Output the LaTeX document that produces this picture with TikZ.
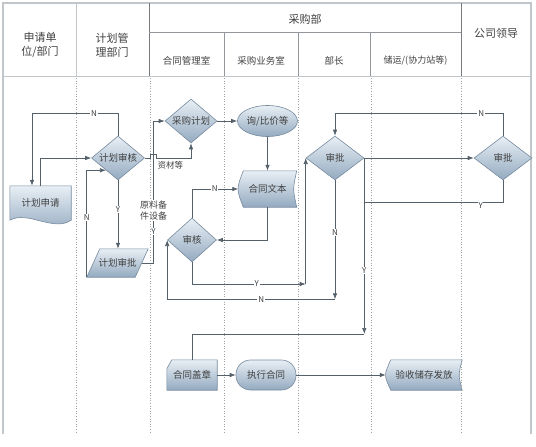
\documentclass[tikz,border=0pt]{standalone}
\usepackage{fontspec}
\setmainfont{Noto Sans CJK SC}
\usetikzlibrary{arrows.meta, shapes.geometric, backgrounds, calc}
\definecolor{linegray}{RGB}{84,96,106}
\definecolor{framegray}{RGB}{192,198,202}
\definecolor{rulegray}{RGB}{120,124,128}
\definecolor{shapetop}{RGB}{232,239,245}
\definecolor{shapebot}{RGB}{148,170,192}
\definecolor{shapeline}{RGB}{118,138,158}
\definecolor{txtgray}{RGB}{64,64,64}

\begin{document}
\begin{tikzpicture}[x=1pt, y=-1pt,
  font=\fontsize{9.5}{11}\selectfont,
  flowfill/.style={top color=shapetop, bottom color=shapebot, draw=shapeline, line width=0.6pt},
  decide/.style={diamond, aspect=1.25, flowfill, inner sep=0pt, text=txtgray,
    minimum width=52pt, minimum height=44pt},
  oval/.style={ellipse, flowfill, inner sep=0pt, text=txtgray,
    minimum width=60pt, minimum height=31pt},
  term/.style={rectangle, rounded corners=14.5pt, flowfill, inner sep=0pt, text=txtgray,
    minimum width=60pt, minimum height=30pt},
  plainbox/.style={rectangle, inner sep=0pt, text=txtgray},
  hdtext/.style={align=center, text=txtgray, font=\fontsize{11}{14}\selectfont},
  subtext/.style={text=txtgray, font=\fontsize{9.5}{11}\selectfont},
  lbl/.style={fill=white, inner sep=0.8pt, text=txtgray, font=\fontsize{8}{9.5}\selectfont},
  conn/.style={draw=linegray, line width=0.7pt},
  arrow/.style={conn, -{Latex[length=6pt,width=4.5pt]}},
  colsep/.style={draw=rulegray!70, dotted, line width=0.6pt}
]
  \useasboundingbox (0,0) rectangle (536,447);

  % frame and header
  \draw[framegray, line width=1.4pt] (3,434) -- (3,3) -- (531,3) -- (531,434);
  \draw[framegray, line width=0.8pt] (3,76) -- (531,76);
  \draw[framegray, line width=0.8pt] (76,3) -- (76,76);
  \draw[rulegray, line width=0.8pt] (149,3) -- (149,76) (461,3) -- (461,76);
  \draw[rulegray!80, line width=0.6pt] (149,32) -- (461,32)
    (224,32) -- (224,76) (298,32) -- (298,76) (370,32) -- (370,76);
  \foreach \x in {76,150,224,298,371,461}
    \draw[colsep] (\x,78) -- (\x,433);

  \node[hdtext] (hsq) at (40,45) {申请单\\位/部门};
  \node[hdtext] (hjh) at (112,45) {计划管\\理部门};
  \node[hdtext] (hcg) at (305,19) {采购部};
  \node[hdtext] (hld) at (496,33) {公司领导};
  \node[subtext] (hht) at (186.5,61) {合同管理室};
  \node[subtext] (hyw) at (261,61) {采购业务室};
  \node[subtext] (hbz) at (334,61) {部长};
  \node[subtext, font=\fontsize{9}{11}\selectfont] (hcy) at (415.5,61) {储运/(协力站等)};

  % flow nodes
  \node[plainbox, minimum width=61pt, minimum height=34pt] (jhsq) at (40.5,203) {计划申请};
  \node[decide, minimum width=53pt] (jhsh) at (118,158) {计划审核};
  \node[plainbox, minimum width=61pt, minimum height=28pt] (jhsp) at (117.5,263) {计划审批};
  \node[decide] (cgjh) at (191,121) {采购计划};
  \node[oval] (xbj) at (267.5,121) {询/比价等};
  \node[plainbox, minimum width=58pt, minimum height=36pt] (htwb) at (267.5,189) {合同文本};
  \node[decide, minimum width=49pt] (sh) at (192,240) {审核};
  \node[decide, minimum width=58pt] (bzsp) at (335,158) {审批};
  \node[decide, minimum width=58pt] (ldsp) at (503,158) {审批};
  \node[plainbox, minimum width=50pt, minimum height=30pt] (htgz) at (192,375) {合同盖章};
  \node[term] (zxht) at (266,375) {执行合同};
  \node[plainbox, minimum width=76pt, minimum height=30pt] (ysfc) at (424,375) {验收储存发放};

  \begin{pgfonlayer}{background}
    \shade[flowfill] (jhsq.north west) -- (jhsq.north east) -- (jhsq.south east)
      .. controls ([xshift=-18pt,yshift=-12pt]jhsq.south east)
      and ([xshift=18pt,yshift=10pt]jhsq.south west) .. (jhsq.south west) -- cycle;
    \shade[flowfill] ([xshift=13pt]jhsp.north west) -- (jhsp.north east)
      -- ([xshift=-13pt]jhsp.south east) -- (jhsp.south west) -- cycle;
    \foreach \n in {htwb,ysfc}
      \shade[flowfill] ([xshift=5pt]\n.north west) -- (\n.north east)
        .. controls ([xshift=-4pt]\n.east) .. (\n.south east)
        -- ([xshift=5pt]\n.south west) .. controls ([xshift=-2pt]\n.west) .. cycle;
    \shade[flowfill] ([xshift=5pt]htgz.north west) -- (htgz.north east) -- (htgz.south east)
      -- (htgz.south west) -- ([yshift=-9pt]htgz.north west) -- cycle;
  \end{pgfonlayer}

  % bend points
  \coordinate (jump) at (153.5,158);
  \path (bzsp.west) ++(0,126) coordinate (ycor);
  \path (bzsp.south) ++(0,119) coordinate (ncor);
  \path (bzsp.east) ++(0,176) coordinate (ycor2);
  \path (bzsp.east) ++(0,44) coordinate (yjoin);
  \path (bzsp.north) ++(0,-22) coordinate (ntop);
  \path (jhsq.north) ++(-8.5,0) coordinate (jhsqin);

  % connectors
  \draw[arrow] (jhsq.north) |- (jhsh.west);
  \draw[arrow] (jhsh.north) |- node[lbl, pos=0.64]{N} (jhsqin |- ntop) -- (jhsqin);
  \draw[arrow] (jhsh.south) -- node[lbl, pos=0.43]{Y} (jhsh.south |- jhsp.north);
  \draw[arrow] (jhsp.south west) |- node[lbl, pos=0.28]{N}
    ($(jhsh.west)!0.55!(jhsh.south)$);
  \draw[arrow] (jhsh.east) -- ([xshift=-3pt]jump) -- ([xshift=-3pt,yshift=4pt]jump)
    -- ([xshift=3pt,yshift=4pt]jump) -- ([xshift=3pt]jump)
    -| node[below, pos=0.2, text=txtgray, font=\fontsize{8.5}{10}\selectfont]{资材等} (cgjh.south);
  \draw[arrow] ([xshift=-6.5pt]jhsp.east) -| node[lbl, pos=0.75, align=center, font=\fontsize{9}{11}\selectfont]{原料备\\件设备}
    node[lbl, pos=0.65]{Y} (jump) |- (cgjh.west);
  \draw[arrow] (cgjh.east) -- (xbj.west);
  \draw[arrow] (xbj.south) -- (htwb.north);
  \draw[arrow] (htwb.south) |- (sh.east);
  \draw[arrow] (sh.north) |- node[lbl, pos=0.745]{N} (htwb.west);
  \draw[arrow] (sh.south) |- node[lbl, pos=0.785]{Y} (ycor);
  \draw[arrow] (ycor) -- (bzsp.west);
  \draw[arrow] (bzsp.south) -- node[lbl, pos=0.44]{N} (ncor);
  \draw[arrow] (ncor) -| node[lbl, pos=0.22]{N} (sh.west);
  \draw[arrow] (bzsp.east) -- (ldsp.west);
  \draw[arrow] (bzsp.east) -- node[lbl, pos=0.64]{Y} (ycor2);
  \draw[conn] (ycor2) -| (htgz.north);
  \draw[conn] (ldsp.south) |- node[lbl, below, pos=0.58, inner sep=0.3pt]{Y} (yjoin);
  \draw[arrow] (ldsp.north) |- node[lbl, pos=0.565]{N} (ntop) -- (bzsp.north);
  \draw[arrow] (htgz.east) -- (zxht.west);
  \draw[arrow] (zxht.east) -- (ysfc.west);
\end{tikzpicture}
\end{document}
